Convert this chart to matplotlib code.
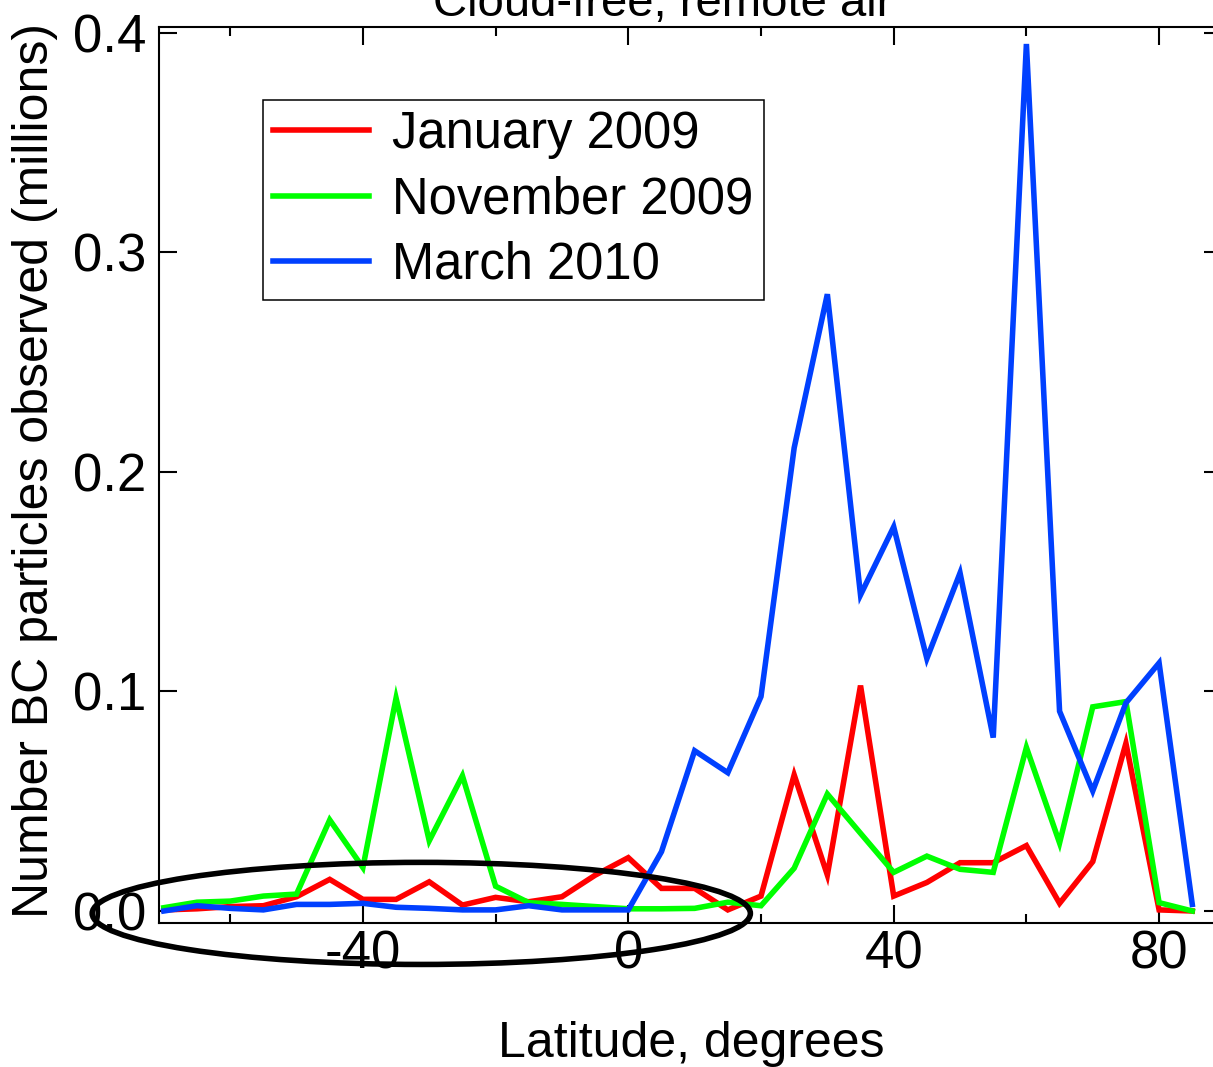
import matplotlib
matplotlib.use("Agg")
import matplotlib.pyplot as plt
from matplotlib.patches import Ellipse

plt.rcParams['font.family'] = ['Liberation Sans', 'DejaVu Sans']
plt.rcParams['axes.unicode_minus'] = False

latitude = [-70, -65, -60, -55, -50, -45, -40, -35, -30, -25, -20, -15, -10, -5, 0, 5,
            10, 15, 20, 25, 30, 35, 40, 45, 50, 55, 60, 65, 70, 75, 80, 85]

jan_2009 = [0.0005, 0.001, 0.002, 0.0024, 0.0065, 0.0144, 0.0053, 0.0053, 0.0133, 0.0027,
            0.0062, 0.0042, 0.0065, 0.0163, 0.0243, 0.0103, 0.0103, 0.0005, 0.0068, 0.062,
            0.0164, 0.1027, 0.0068, 0.013, 0.022, 0.022, 0.0298, 0.0035, 0.0225, 0.0764,
            0.0005, 0.0]
nov_2009 = [0.0015, 0.004, 0.0045, 0.0068, 0.0077, 0.0415, 0.0198, 0.097, 0.032, 0.0616,
            0.0113, 0.0038, 0.003, 0.002, 0.001, 0.001, 0.0012, 0.004, 0.0024, 0.0195,
            0.0533, 0.0354, 0.0176, 0.025, 0.019, 0.0176, 0.0745, 0.031, 0.093, 0.0954,
            0.0038, 0.0]
mar_2010 = [0.0, 0.0024, 0.0012, 0.0005, 0.003, 0.003, 0.0035, 0.0017, 0.0012, 0.0005,
            0.0005, 0.0024, 0.0005, 0.0005, 0.0005, 0.027, 0.073, 0.063, 0.0977, 0.211,
            0.281, 0.144, 0.175, 0.115, 0.154, 0.079, 0.395, 0.091, 0.0547, 0.0948,
            0.113, 0.003]

series_labels = ['January 2009', 'November 2009', 'March 2010']
series_colors = ['#ff0000', '#00ff00', '#0040ff']

x_major = [-40, 0, 40, 80]
x_minor = [-60, -20, 20, 60]
y_major = [0.0, 0.1, 0.2, 0.3, 0.4]

fig = plt.figure(figsize=(12.13, 10.67), dpi=100)
ax = fig.add_axes([159 / 1213, 1 - 923 / 1067, (1222 - 159) / 1213, (923 - 27) / 1067])

for values, label, color in zip([jan_2009, nov_2009, mar_2010], series_labels, series_colors):
    ax.plot(latitude, values, color=color, lw=4, label=label, solid_joinstyle='miter')

ax.set_xlim(-70.73, 89.48)
ax.set_ylim(-0.00547, 0.40273)

ax.set_xticks(x_major)
ax.set_xticks(x_minor, minor=True)
ax.set_yticks(y_major)
ax.set_yticklabels([f"{v:.1f}" for v in y_major])

ax.tick_params(which='both', direction='in', top=True, right=True, width=1.5, labelsize=38)
ax.tick_params(which='major', length=13)
ax.tick_params(which='minor', length=6.5)
ax.tick_params(axis='x', pad=5)
ax.tick_params(axis='y', pad=9)
for spine in ax.spines.values():
    spine.set_linewidth(1.5)

# highlight the southern hemisphere low values
ax.add_patch(Ellipse((-31.2, -0.0011), 99.2, 0.0465, fill=False, ec='black', lw=4,
                     clip_on=False, zorder=5))

leg = ax.legend(loc='upper left', bbox_to_anchor=(263 / 1213, 1 - 100 / 1067),
                bbox_transform=fig.transFigure, borderaxespad=0, fontsize=36.5,
                handlelength=1.9, handletextpad=0.45, labelspacing=0.32,
                borderpad=0.2, fancybox=False, framealpha=1)
leg.get_frame().set_edgecolor('black')
leg.get_frame().set_linewidth(1.1)

fig.text(663 / 1213, 1 - 16 / 1067, 'Cloud-free, remote air', fontsize=34,
         ha='center', va='baseline')
fig.text(691 / 1213, 1 - 1057 / 1067, 'Latitude, degrees', fontsize=36,
         ha='center', va='baseline')
fig.text(35 / 1213, 1 - 470 / 1067, 'Number BC particles observed (millions)',
         fontsize=36, rotation=90, ha='center', va='center')

fig.savefig('out.png', dpi=100)
